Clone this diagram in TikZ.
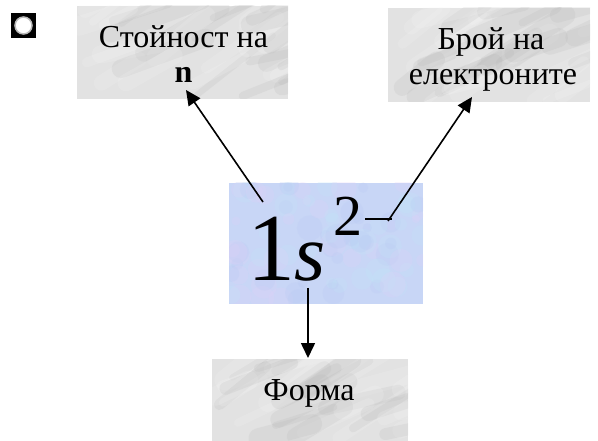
\documentclass[tikz,border=0pt]{standalone}
\usepackage{fontspec}
\setmainfont{Liberation Serif}
\usetikzlibrary{arrows.meta}

\definecolor{marblebase}{RGB}{226,226,226}
\definecolor{marblelight}{RGB}{250,250,250}
\definecolor{marbledark}{RGB}{175,175,175}
\definecolor{icebase}{RGB}{200,214,246}
\definecolor{icepink}{RGB}{226,208,246}
\definecolor{icecyan}{RGB}{192,232,246}
\definecolor{iceblue}{RGB}{182,200,242}

% soft diagonal streaks of a grey marble texture inside a rectangle
\newcommand\marblestreaks[4]{%
  \begin{scope}
    \clip (#1,#2) rectangle (#3,#4);
    \foreach \k in {1,...,36}{
      \pgfmathsetmacro\sx{#1+rnd*(#3-#1)}
      \pgfmathsetmacro\sy{#2+rnd*(#4-#2)}
      \pgfmathsetmacro\slen{30+rnd*70}
      \pgfmathsetmacro\sang{-10-rnd*30}
      \pgfmathsetmacro\sw{6+rnd*14}
      \ifodd\k\def\scol{marblelight}\else\def\scol{marbledark}\fi
      \draw[\scol, line width=\sw pt, line cap=round, opacity=0.16]
        (\sx,\sy) -- ++(\sang:\slen);
    }
  \end{scope}}

% mottled pastel blue texture
\newcommand\icemottle[4]{%
  \begin{scope}
    \clip (#1,#2) rectangle (#3,#4);
    \foreach \k in {1,...,90}{
      \pgfmathsetmacro\sx{#1+rnd*(#3-#1)}
      \pgfmathsetmacro\sy{#2+rnd*(#4-#2)}
      \pgfmathsetmacro\sr{4+rnd*9}
      \pgfmathtruncatemacro\pick{mod(\k,3)}
      \ifcase\pick\def\scol{icepink}\or\def\scol{icecyan}\else\def\scol{iceblue}\fi
      \fill[\scol, opacity=0.22] (\sx,\sy) circle (\sr pt);
    }
  \end{scope}}

\tikzset{
  panel/.style={draw=none, fill=marblebase, inner sep=0pt, anchor=north west},
  label/.style={inner sep=0pt, anchor=base, font=\fontsize{32}{36}\selectfont},
  conn/.style={-{Triangle[length=15pt,width=14pt]}, line width=1.6pt},
}

\begin{document}
\begin{tikzpicture}[x=1pt, y=-1pt]
  \pgfmathsetseed{12}
  \useasboundingbox (0,0) rectangle (598,441);
  \fill[white] (0,0) rectangle (598,441);

  % bullet icon
  \node[fill=black, minimum size=25pt, inner sep=0pt] (bullet) at (23.5,25.5) {};
  \fill[white, draw=gray!55, line width=1.5pt] (bullet.center) circle (8.5pt);

  % marble panels
  \node[panel, minimum width=211pt, minimum height=93pt] (pval) at (77,6) {};
  \marblestreaks{77}{6}{288}{99}
  \node[panel, minimum width=202pt, minimum height=94pt] (pnum) at (388,8) {};
  \marblestreaks{388}{8}{590}{102}
  \node[panel, minimum width=196pt, minimum height=82pt] (pform) at (212,359) {};
  \marblestreaks{212}{359}{408}{441}

  % central formula panel
  \node[panel, fill=icebase, minimum width=194pt, minimum height=121pt] (pcore) at (229,183) {};
  \icemottle{229}{183}{423}{304}

  % panel texts
  \node[label] (tval1) at (183.5,48) {Стойност на};
  \node[label] (tval2) at (183.5,83) {\textbf{n}};
  \node[label] (tnum1) at (491,50) {Брой на};
  \node[label] (tnum2) at (493,85) {електроните};
  \node[label] (tform) at (309,400) {Форма};

  % the formula 1s^2
  \node[inner sep=0pt, anchor=base west, font=\fontsize{96}{96}\selectfont] (one) at (247,280) {1};
  \node[inner sep=0pt, anchor=base west, font=\fontsize{80}{80}\selectfont\itshape] (ess) at (294,281) {s};
  \node[inner sep=0pt, anchor=base west, font=\fontsize{58}{58}\selectfont] (two) at (333,236) {2};

  % connector end points
  \coordinate (a1s) at (263,202);
  \coordinate (a1e) at (186,90);
  \coordinate (d1) at (365,219);
  \coordinate (d2) at (392,219);
  \coordinate (a2s) at (388,221);
  \coordinate (a2e) at (472,97);
  \coordinate (a3s) at (308,288);
  \coordinate (a3e) at (308,358);

  \draw[conn] (a1s) -- (a1e);
  \draw[line width=1.6pt] (d1) -- (d2);
  \draw[conn] (a2s) -- (a2e);
  \draw[conn] (a3s) -- (a3e);
\end{tikzpicture}
\end{document}
